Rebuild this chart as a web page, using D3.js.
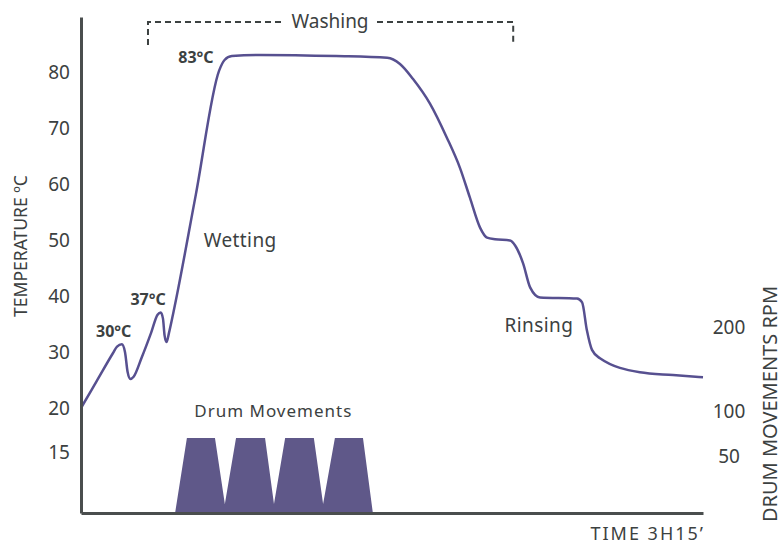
<!DOCTYPE html>
<html>
<head>
<meta charset="utf-8">
<script src="https://cdn.jsdelivr.net/npm/d3@7"></script>
<style>
  body { margin: 0; background: #fff; }
  text { font-family: "Noto Sans", "Open Sans", sans-serif; fill: #3c4141; }
</style>
</head>
<body>
<div id="chart"></div>
<script>
// temperature curve (minutes, degrees C)
var tempTime  = [0, 5, 10, 11.3, 12.8, 13.8, 14.6, 15.5, 16.5, 19, 22, 24, 25, 25.7, 26.2, 26.8, 27.6, 29, 36, 43.3, 45, 47.3, 56, 80, 96, 100, 104.1, 109.4, 114.7, 118.8, 121.9, 125.1, 127.3, 129.8, 134.5, 136.1, 138.6, 140.8, 143.9, 155.5, 157.1, 158.6, 160.2, 162.7, 175.2, 185.6, 195];
var tempValue = [20, 24.9, 29.8, 31, 31.4, 30, 26.5, 25.2, 25.6, 29, 33.5, 36.7, 37.1, 36, 33, 31.8, 33.5, 37.2, 58.2, 80.4, 82.3, 83, 83.2, 83, 82.7, 81.6, 78.9, 74.5, 68.4, 63, 57.7, 52.3, 50.5, 50.2, 50, 49.1, 45.9, 41.6, 39.8, 39.6, 38.9, 33.9, 30.4, 28.9, 26.4, 25.9, 25.5];

// drum movements (minutes, rpm)
var drumTime = [29.5, 33.2, 42.0, 45.1, 48.6, 57.7, 60.5, 64.0, 73.0, 75.9, 79.6, 88.4, 91.5];
var drumRpm  = [0, 70, 70, 8, 70, 70, 8, 70, 70, 8, 70, 70, 0];

var tempTicks = [15, 20, 30, 40, 50, 60, 70, 80];
var rpmTicks = [50, 100, 200];

// callouts
var peakLabels = [
  {t: 4.7, v: 31.4, text: "30°C"},
  {t: 15.5, v: 37.1, text: "37°C"},
  {t: 30.5, v: 80.6, text: "83°C"}
];
var phaseLabels = [
  {t: 38.5, v: 48.8, text: "Wetting"},
  {t: 132.8, v: 33.6, text: "Rinsing"}
];

var width = 782, height = 544;

var svg = d3.select("#chart")
  .append("svg")
    .attr("width", width)
    .attr("height", height);

var x = d3.scaleLinear()
  .domain([0, 195])
  .range([81, 703]);

// temperature scale is stretched below 20
var y = d3.scaleLinear()
  .domain([8, 15, 20, 90])
  .range([513, 452, 408, 17]);

// rpm scale on the right, also uneven
var yr = d3.scaleLinear()
  .domain([0, 50, 100, 200])
  .range([513, 456, 411, 327]);

var temp = tempTime.map(function(t, i) { return {t: t, v: tempValue[i]}; });
var drum = drumTime.map(function(t, i) { return {t: t, v: drumRpm[i]}; });

// drum movement blocks
svg.append("path")
  .datum(drum)
  .attr("fill", "#5f5889")
  .attr("d", d3.area()
    .x(function(d) { return x(d.t); })
    .y0(yr(0))
    .y1(function(d) { return yr(d.v); }));

// temperature line
svg.append("path")
  .datum(temp)
  .attr("fill", "none")
  .attr("stroke", "#575090")
  .attr("stroke-width", 2.5)
  .attr("d", d3.line()
    .curve(d3.curveMonotoneX)
    .x(function(d) { return x(d.t); })
    .y(function(d) { return y(d.v); }));

// left axis
var yAxis = svg.append("g")
  .attr("transform", "translate(81,0)")
  .call(d3.axisLeft(y).tickValues(tempTicks).tickSize(0).tickSizeOuter(0).tickPadding(11));
yAxis.select(".domain").attr("stroke", "#4a4e4e").attr("stroke-width", 3);
yAxis.selectAll("text").style("font-size", "19px").attr("fill", "#3c4141");

// bottom axis
var xAxis = svg.append("g")
  .attr("transform", "translate(0," + 513 + ")")
  .call(d3.axisBottom(x).tickValues([]).tickSizeOuter(0));
xAxis.select(".domain").attr("stroke", "#4a4e4e").attr("stroke-width", 3);

// right rpm labels (no axis line)
var rAxis = svg.append("g")
  .attr("transform", "translate(729,0)")
  .call(d3.axisRight(yr).tickValues(rpmTicks).tickSize(0).tickPadding(0));
rAxis.select(".domain").remove();
rAxis.selectAll("text").style("font-size", "19px").attr("fill", "#3c4141").attr("text-anchor", "middle");

// axis titles
svg.append("text")
  .attr("transform", "translate(27,246) rotate(-90)")
  .attr("text-anchor", "middle")
  .style("font-size", "17.5px")
  .text("TEMPERATURE ºC");

svg.append("text")
  .attr("transform", "translate(777,404) rotate(-90)")
  .attr("text-anchor", "middle")
  .style("font-size", "20px")
  .text("DRUM MOVEMENTS RPM");

svg.append("text")
  .attr("x", 705)
  .attr("y", 540)
  .attr("text-anchor", "end")
  .style("font-size", "18px")
  .style("letter-spacing", "2px")
  .text("TIME 3H15’");

// peak callouts
svg.selectAll(".peak")
  .data(peakLabels)
  .enter().append("text")
    .attr("class", "peak")
    .attr("x", function(d) { return x(d.t); })
    .attr("y", function(d) { return y(d.v) - 7; })
    .style("font-size", "16px")
    .style("font-weight", "bold")
    .text(function(d) { return d.text; });

svg.selectAll(".phase")
  .data(phaseLabels)
  .enter().append("text")
    .attr("class", "phase")
    .attr("x", function(d) { return x(d.t); })
    .attr("y", function(d) { return y(d.v); })
    .style("font-size", "19px")
    .style("letter-spacing", "0.4px")
    .text(function(d) { return d.text; });

svg.append("text")
  .attr("x", x(35.5))
  .attr("y", 417)
  .style("font-size", "17px")
  .style("letter-spacing", "1px")
  .text("Drum Movements");

// washing bracket
var washStart = 21, washEnd = 135.5, bracketY = 22;
var bracket = svg.append("g")
  .attr("fill", "none")
  .attr("stroke", "#3c4141")
  .attr("stroke-width", 2)
  .attr("stroke-dasharray", "6,4");
bracket.append("path")
  .attr("d", "M" + x(washStart) + "," + 45 + "V" + bracketY + "H" + 284);
bracket.append("path")
  .attr("d", "M" + 377 + "," + bracketY + "H" + x(washEnd) + "V" + 45);

svg.append("text")
  .attr("x", 330)
  .attr("y", 28)
  .attr("text-anchor", "middle")
  .style("font-size", "19px")
  .text("Washing");
</script>
</body>
</html>
